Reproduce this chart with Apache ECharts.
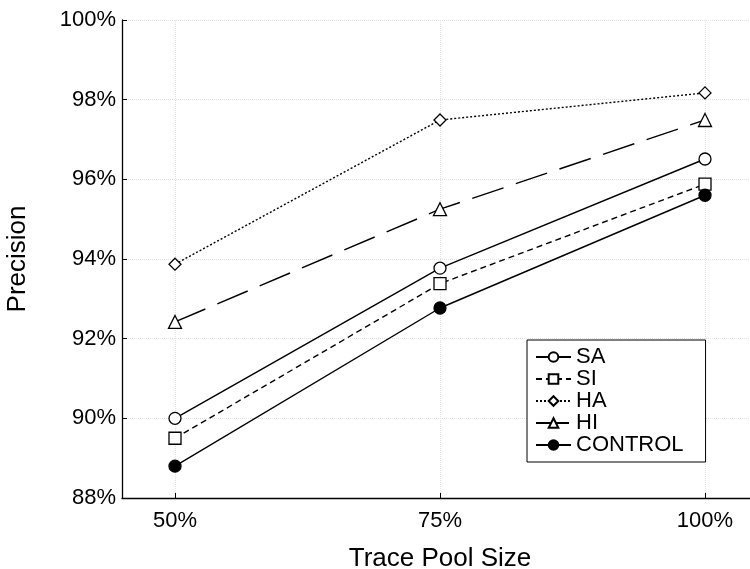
<!DOCTYPE html>
<html>
<head>
<meta charset="utf-8">
<script src="https://cdn.jsdelivr.net/npm/echarts@6/dist/echarts.min.js"></script>
<style>
  html, body { margin: 0; padding: 0; background: #fff; }
  #chart { width: 750px; height: 569px; }
</style>
</head>
<body>
<div id="chart"></div>
<script>
  const poolSizes = [50, 75, 100]
  const saValues = [90.0, 93.77, 96.51]
  const siValues = [89.5, 93.38, 95.88]
  const haValues = [93.87, 97.49, 98.17]
  const hiValues = [92.42, 95.25, 97.49]
  const controlValues = [88.8, 92.77, 95.6]

  function pairs(values) {
    return poolSizes.map((x, i) => [x, values[i]])
  }

  function makeSeries(name, values, symbol, symbolSize, lineType, filled) {
    return {
      name: name,
      type: 'line',
      data: pairs(values),
      symbol: symbol,
      symbolSize: symbolSize,
      showAllSymbol: true,
      lineStyle: { color: '#000', width: 1.4, type: lineType },
      itemStyle: { color: filled ? '#000' : '#fff', borderColor: '#000', borderWidth: 1.3 },
      emphasis: { disabled: true }
    }
  }

  const chart = echarts.init(document.getElementById('chart'))
  chart.setOption({
    animation: false,
    textStyle: { fontFamily: 'Liberation Sans, Arial, sans-serif' },
    grid: { left: 122, top: 20, bottom: 71, right: -8, outerBoundsMode: 'none', containLabel: false },
    legend: {
      left: 527,
      top: 340,
      orient: 'vertical',
      backgroundColor: '#fff',
      borderColor: '#000',
      borderWidth: 1,
      borderRadius: 0,
      padding: [6, 22, 6, 8],
      itemWidth: 35,
      itemHeight: 12,
      itemGap: 0,
      textStyle: { fontSize: 22, color: '#000' },
      data: ['SA', 'SI', 'HA', 'HI', 'CONTROL']
    },
    xAxis: {
      type: 'value',
      min: 45,
      max: 105,
      name: 'Trace Pool Size',
      nameLocation: 'middle',
      nameGap: 48,
      nameTextStyle: { fontSize: 26, color: '#000' },
      axisLine: { lineStyle: { color: '#000', width: 1.3 } },
      axisTick: { inside: true, length: 5, customValues: poolSizes, lineStyle: { color: '#000' } },
      axisLabel: { customValues: poolSizes, formatter: '{value}%', fontSize: 22, color: '#000', margin: 12 },
      splitLine: { show: true, lineStyle: { color: '#e2e2e2', type: 'dotted' } }
    },
    yAxis: {
      type: 'value',
      min: 88,
      max: 100,
      interval: 2,
      name: 'Precision',
      nameLocation: 'middle',
      nameGap: 91,
      nameTextStyle: { fontSize: 26, color: '#000' },
      axisLine: { show: true, lineStyle: { color: '#000', width: 1.3 } },
      axisTick: { show: true, inside: true, length: 5, lineStyle: { color: '#000' } },
      axisLabel: { formatter: '{value}%', fontSize: 22, color: '#000', margin: 6 },
      splitLine: { show: true, lineStyle: { color: '#e2e2e2', type: 'dotted' } }
    },
    series: [
      makeSeries('SA', saValues, 'circle', 12, 'solid', false),
      makeSeries('SI', siValues, 'rect', 12, [6, 4], false),
      makeSeries('HA', haValues, 'diamond', 12, [2, 2], false),
      makeSeries('HI', hiValues, 'triangle', 13, [33, 13], false),
      makeSeries('CONTROL', controlValues, 'circle', 12, 'solid', true)
    ]
  })
</script>
</body>
</html>
